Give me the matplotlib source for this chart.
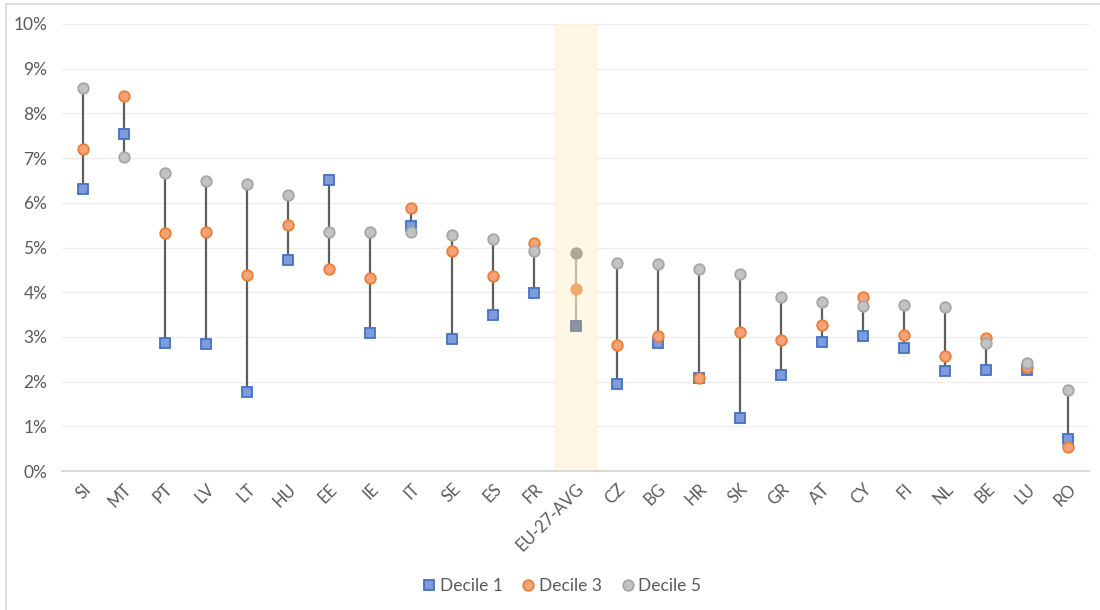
import matplotlib
matplotlib.use("Agg")
import matplotlib.pyplot as plt
import numpy as np
from matplotlib.patches import Rectangle
from matplotlib.lines import Line2D

countries = ["SI", "MT", "PT", "LV", "LT", "HU", "EE", "IE", "IT", "SE", "ES", "FR",
             "EU-27-AVG", "CZ", "BG", "HR", "SK", "GR", "AT", "CY", "FI", "NL", "BE", "LU", "RO"]
decile1 = [6.31, 7.54, 2.86, 2.84, 1.77, 4.72, 6.51, 3.09, 5.48, 2.95, 3.49, 3.98,
           3.24, 1.95, 2.86, 2.07, 1.19, 2.15, 2.89, 3.02, 2.75, 2.24, 2.26, 2.26, 0.72]
decile3 = [7.20, 8.39, 5.32, 5.35, 4.38, 5.50, 4.52, 4.32, 5.88, 4.92, 4.36, 5.10,
           4.07, 2.82, 3.02, 2.09, 3.11, 2.93, 3.27, 3.89, 3.04, 2.57, 2.98, 2.33, 0.54]
decile5 = [8.57, 7.02, 6.67, 6.49, 6.42, 6.17, 5.35, 5.35, 5.35, 5.28, 5.19, 4.92,
           4.88, 4.65, 4.63, 4.52, 4.41, 3.89, 3.78, 3.69, 3.71, 3.67, 2.86, 2.42, 1.81]
series_names = ["Decile 1", "Decile 3", "Decile 5"]
highlight = "EU-27-AVG"

FONT = ["Lato", "DejaVu Sans"]
TXT = "#5a5a5a"
plt.rcParams["font.family"] = FONT

fig = plt.figure(figsize=(11, 6.1), dpi=100)
ax = fig.add_axes([62 / 1100, 1 - 471 / 610, (1089 - 62) / 1100, (471 - 24) / 610])

x = np.arange(len(countries))
d1 = np.array(decile1); d3 = np.array(decile3); d5 = np.array(decile5)
lo = np.minimum(np.minimum(d1, d3), d5)
hi = np.maximum(np.maximum(d1, d3), d5)
hi_idx = countries.index(highlight)
normal = x != hi_idx

# highlight band
ax.axvspan(hi_idx - 0.5, hi_idx + 0.5, ymin=0, ymax=1, facecolor="#fef7e5",
           edgecolor="#fbf2dc", lw=1, zorder=0.6)

# high-low lines
ax.vlines(x[normal], lo[normal], hi[normal], color="#5e5e5e", lw=1.6, zorder=2)
ax.vlines([hi_idx], [lo[hi_idx]], [hi[hi_idx]], color="#c4bca4", lw=1.6, zorder=2)

ms = 7.6
styles = [
    dict(marker="s", mfc="#7e9bdb", mec="#4472c4"),
    dict(marker="o", mfc="#f4a37a", mec="#ed7d31"),
    dict(marker="o", mfc="#c3c3c3", mec="#a6a6a6"),
]
hl_colors = [("#8b95a3", "#7f8a9b"), ("#f1aa6c", "#f1aa6c"), ("#aba799", "#aba799")]
for vals, st, hc in zip([d1, d3, d5], styles, hl_colors):
    ax.plot(x[normal], vals[normal], ls="none", ms=ms, mew=1.3, zorder=3, **st)
    ax.plot([hi_idx], [vals[hi_idx]], ls="none", marker=st["marker"], ms=ms, mew=1.3,
            mfc=hc[0], mec=hc[1], zorder=3)

ax.set_xlim(-0.5, len(countries) - 0.5)
ax.set_ylim(0, 10)
ax.set_yticks(np.arange(0, 11, 1))
ax.set_yticklabels([f"{v}%" for v in range(0, 11)])
ax.set_xticks(x)
ax.set_xticklabels(countries, rotation=45, ha="right", rotation_mode="anchor")
ax.grid(axis="y", color="#eeeeee", lw=1)
ax.set_axisbelow(True)
for s in ["top", "right", "left"]:
    ax.spines[s].set_visible(False)
ax.spines["bottom"].set_color("#d9d9d9")
ax.spines["bottom"].set_linewidth(1.4)
ax.spines["bottom"].set_zorder(1)
ax.tick_params(axis="y", length=0, pad=10.5, labelsize=12.5, labelcolor=TXT)
ax.tick_params(axis="x", length=0, pad=7, labelsize=12, labelcolor=TXT)

handles = [Line2D([], [], ls="none", marker=st["marker"], ms=ms, mew=1.3,
                  mfc=st["mfc"], mec=st["mec"]) for st in styles]
leg = fig.legend(handles, series_names, loc="center", bbox_to_anchor=(560 / 1100, 1 - 586 / 610),
                 ncol=3, frameon=False, fontsize=12.5, handletextpad=0.0, columnspacing=0.9,
                 handlelength=1.2)
for t in leg.get_texts():
    t.set_color(TXT)

# chart outer border
fig.add_artist(Rectangle((6 / 1100, -0.05), 1.2, 1 - 4 / 610 + 0.05, transform=fig.transFigure,
                         fill=False, edgecolor="#d9d9d9", lw=1.2))

fig.savefig("out.png", dpi=100)
